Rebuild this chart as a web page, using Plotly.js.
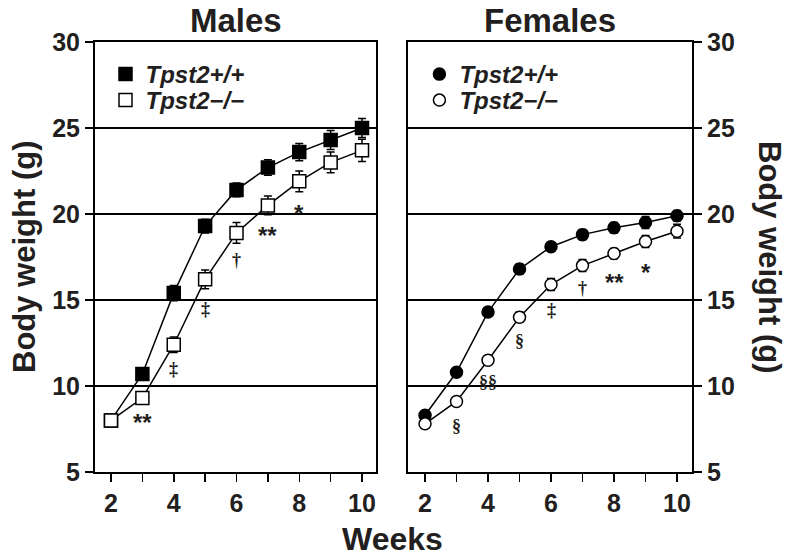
<!DOCTYPE html>
<html><head><meta charset="utf-8">
<script src="https://cdn.plot.ly/plotly-3.0.1.min.js"></script>
<style>html,body{margin:0;padding:0;background:#fff}#chart{width:790px;height:557px}</style>
</head><body><div id="chart"></div>
<script>
// ---- data ----
const weeks = [2, 3, 4, 5, 6, 7, 8, 9, 10];
const weekLabels = ['2', '', '4', '', '6', '', '8', '', '10'];
const yTicks = [5, 10, 15, 20, 25, 30];

const maleWT = [8.0, 10.7, 15.4, 19.3, 21.4, 22.7, 23.6, 24.3, 25.0];
const maleWTErr = [0.15, 0.2, 0.45, 0.4, 0.4, 0.45, 0.5, 0.55, 0.55];
const maleKO = [8.0, 9.3, 12.4, 16.2, 18.9, 20.5, 21.9, 23.0, 23.7];
const maleKOErr = [0.15, 0.25, 0.45, 0.55, 0.6, 0.55, 0.6, 0.6, 0.65];

const femaleWT = [8.3, 10.8, 14.3, 16.8, 18.1, 18.8, 19.2, 19.5, 19.9];
const femaleWTErr = [0.15, 0.15, 0.2, 0.3, 0.2, 0.3, 0.3, 0.35, 0.3];
const femaleKO = [7.8, 9.1, 11.5, 14.0, 15.9, 17.0, 17.7, 18.4, 19.0];
const femaleKOErr = [0.15, 0.15, 0.2, 0.3, 0.35, 0.35, 0.3, 0.35, 0.4];

const maleSigWeeks = [3, 4, 5, 6, 7, 8];
const maleSigLabels = ['**', '‡', '‡', '†', '**', '*'];
const maleSigY = [8.2, 11.0, 14.5, 17.3, 19.1, 20.35];

const femaleSigWeeks = [3, 4, 5, 6, 7, 8, 9];
const femaleSigLabels = ['§', '§§', '§', '‡', '†', '**', '*'];
const femaleSigY = [7.7, 10.25, 12.6, 14.4, 15.7, 16.35, 16.95];

const seriesNames = ['Tpst2+/+', 'Tpst2−/−'];
const panelTitles = ['Males', 'Females'];
const xTitle = 'Weeks';
const yTitle = 'Body weight (g)';

// ---- styles ----
const SANS = 'Liberation Sans, Arial, Helvetica, sans-serif';
const SERIF = 'Liberation Serif, Times New Roman, serif';
const INK = '#231f20';
const tickFont = {family: SANS, size: 25, color: INK, weight: 'bold'};

function errs(arr) {
  return {type: 'data', array: arr, visible: true, color: 'black', thickness: 1.5, width: 4};
}
function series(x, y, e, xa, ya, symbol, fill, size) {
  return {
    x: x, y: y, xaxis: xa, yaxis: ya, type: 'scatter', mode: 'lines+markers',
    showlegend: false, cliponaxis: false,
    line: {color: 'black', width: 1.5},
    marker: {symbol: symbol, size: size, color: fill, line: {color: 'black', width: 1.5}},
    error_y: errs(e)
  };
}
function legendItem(name, symbol, fill, legend, xa, ya, size) {
  return {
    x: [null], y: [null], xaxis: xa, yaxis: ya,
    type: 'scatter', mode: 'markers', name: name, legend: legend, showlegend: true,
    marker: {symbol: symbol, size: size, color: fill, line: {color: 'black', width: 1.5}}
  };
}

const data = [
  series(weeks, maleWT, maleWTErr, 'x', 'y', 'square', 'black', 13),
  series(weeks, maleKO, maleKOErr, 'x', 'y', 'square', 'white', 13),
  series(weeks, femaleWT, femaleWTErr, 'x2', 'y2', 'circle', 'black', 12),
  series(weeks, femaleKO, femaleKOErr, 'x2', 'y2', 'circle', 'white', 12),
  legendItem(seriesNames[0], 'square', 'black', 'legend', 'x', 'y', 13),
  legendItem(seriesNames[1], 'square', 'white', 'legend2', 'x', 'y', 13),
  legendItem(seriesNames[0], 'circle', 'black', 'legend3', 'x2', 'y2', 12),
  legendItem(seriesNames[1], 'circle', 'white', 'legend4', 'x2', 'y2', 12)
];

function xAxis(domain, range, anchor) {
  return {
    domain: domain, range: range, anchor: anchor,
    tickvals: weeks, ticktext: weekLabels, ticks: 'outside', ticklen: 8, tickwidth: 1.5, tickcolor: 'black',
    showline: true, linecolor: 'black', linewidth: 2, mirror: true,
    showgrid: false, zeroline: false, tickfont: tickFont
  };
}
function yAxis(side, anchor) {
  return {
    domain: [0, 1], range: [5, 30], anchor: anchor, side: side,
    tickvals: yTicks, ticks: 'outside', ticklen: 8, tickwidth: 1.5, tickcolor: 'black',
    showline: true, linecolor: 'black', linewidth: 2, mirror: true,
    showgrid: true, gridcolor: 'black', gridwidth: 1.5, zeroline: false, tickfont: tickFont
  };
}

const annotations = [];
function addSig(weeksArr, labels, ys, xa, ya) {
  for (let i = 0; i < labels.length; i++) {
    const star = labels[i].indexOf('*') >= 0;
    annotations.push({
      x: weeksArr[i], y: ys[i], xref: xa, yref: ya, text: labels[i], showarrow: false,
      xanchor: 'center', yanchor: 'middle', yshift: star ? -6 : 0,
      font: star ? {family: SANS, size: 24, color: INK, weight: 'bold'} : {family: SERIF, size: 18, color: INK, weight: 'bold'}
    });
  }
}
addSig(maleSigWeeks, maleSigLabels, maleSigY, 'x', 'y');
addSig(femaleSigWeeks, femaleSigLabels, femaleSigY, 'x2', 'y2');

annotations.push({text: panelTitles[0], xref: 'x domain', x: 0.5, yref: 'paper', y: 1, yanchor: 'middle', yshift: 22,
  showarrow: false, font: {family: SANS, size: 33, color: INK, weight: 'bold'}});
annotations.push({text: panelTitles[1], xref: 'x2 domain', x: 0.5, yref: 'paper', y: 1, yanchor: 'middle', yshift: 22,
  showarrow: false, font: {family: SANS, size: 33, color: INK, weight: 'bold'}});
annotations.push({text: xTitle, xref: 'paper', x: 0.5, xshift: -1, yref: 'paper', y: 0, yanchor: 'middle', yshift: -67,
  showarrow: false, font: {family: SANS, size: 32, color: INK, weight: 'bold'}});
annotations.push({text: yTitle, xref: 'paper', x: 0, xshift: -71, yref: 'paper', y: 0.5, textangle: -90, xanchor: 'center', yanchor: 'middle',
  showarrow: false, font: {family: SANS, size: 31, color: INK, weight: 'bold'}});
annotations.push({text: yTitle, xref: 'paper', x: 1, xshift: 78, yref: 'paper', y: 0.5, textangle: 90, xanchor: 'center', yanchor: 'middle',
  showarrow: false, font: {family: SANS, size: 31, color: INK, weight: 'bold'}});

const legendFont = {family: SANS, size: 24, color: INK, weight: 'bold', style: 'italic'};
function legendBox(x, y) {
  return {x: x, y: y, xanchor: 'left', yanchor: 'top', bgcolor: 'rgba(0,0,0,0)', font: legendFont, itemsizing: 'trace'};
}
const layout = {
  width: 790, height: 557,
  margin: {l: 95, r: 98, t: 42, b: 85, autoexpand: false},
  paper_bgcolor: 'white', plot_bgcolor: 'white',
  showlegend: true,
  xaxis: xAxis([0, 0.4707], [1.49, 10.446], 'y'),
  yaxis: yAxis('left', 'x'),
  xaxis2: xAxis([0.5243, 1], [1.46, 10.476], 'y2'),
  yaxis2: yAxis('right', 'x2'),
  legend: legendBox(0.0176, 0.9767),
  legend2: legendBox(0.0176, 0.9163),
  legend3: legendBox(0.5434, 0.9767),
  legend4: legendBox(0.5434, 0.9163),
  annotations: annotations
};

Plotly.newPlot('chart', data, layout, {displayModeBar: false, staticPlot: true});
</script>
</body></html>
